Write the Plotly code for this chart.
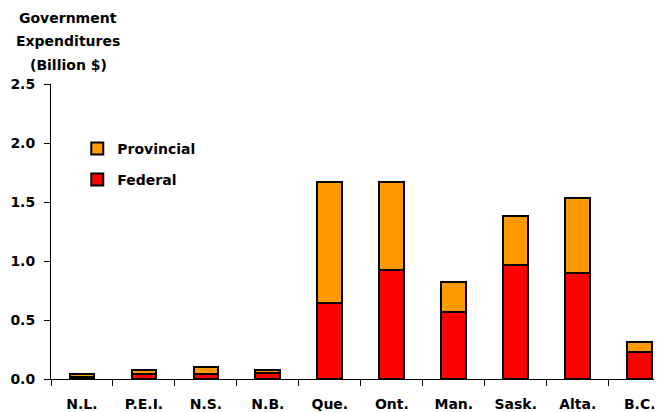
import plotly.graph_objects as go

provinces = ["N.L.", "P.E.I.", "N.S.", "N.B.", "Que.", "Ont.", "Man.", "Sask.", "Alta.", "B.C."]
federal = [0.02, 0.045, 0.045, 0.055, 0.64, 0.92, 0.565, 0.97, 0.895, 0.23]
provincial = [0.02, 0.035, 0.06, 0.025, 1.03, 0.75, 0.255, 0.41, 0.635, 0.08]
y_ticks = [0.0, 0.5, 1.0, 1.5, 2.0, 2.5]

# page body has an 8px margin, so the figure is shrunk by that much
FONT = "DejaVu Sans"
line = dict(color="black", width=2)
txt_font = dict(family=FONT, size=14, color="black", weight="bold")

fig = go.Figure()
fig.add_trace(go.Bar(x=provinces, y=federal, name="Federal",
                     marker=dict(color="#FF0000", line=line), width=0.4,
                     legend="legend2"))
fig.add_trace(go.Bar(x=provinces, y=provincial, name="Provincial",
                     marker=dict(color="#FF9900", line=line), width=0.4,
                     legend="legend"))

leg = dict(font=txt_font, bgcolor="rgba(0,0,0,0)", xanchor="left",
           yanchor="middle", itemwidth=30)
fig.update_layout(
    barmode="stack",
    width=654, height=404,
    margin=dict(l=43, r=0, t=76, b=33, autoexpand=False),
    paper_bgcolor="white", plot_bgcolor="white",
    font=txt_font,
    legend=dict(x=0.043, y=0.78, **leg),
    legend2=dict(x=0.043, y=0.675, **leg),
    showlegend=True,
)

fig.update_xaxes(
    range=[-0.5, 9.36], tickson="boundaries", ticks="outside", ticklen=6,
    tickcolor="black", showline=True, linecolor="black", linewidth=1,
    showgrid=False, ticklabelstandoff=12, automargin=False,
)
fig.update_yaxes(
    range=[0, 2.5], tickvals=y_ticks, tickformat=".1f", ticks="outside",
    ticklen=6, tickcolor="black", showline=True, linecolor="black",
    linewidth=1, showgrid=False, zeroline=False, ticklabelstandoff=6,
    automargin=False,
)

for i, txt in enumerate(["Government", "Expenditures", "(Billion $)"]):
    fig.add_annotation(text=txt, xref="paper", yref="paper", x=0.028,
                       y=1 + (84 - 18 - 23.5 * i) / 295, xanchor="center",
                       yanchor="middle", showarrow=False, font=txt_font)

fig.write_html("out.html")
